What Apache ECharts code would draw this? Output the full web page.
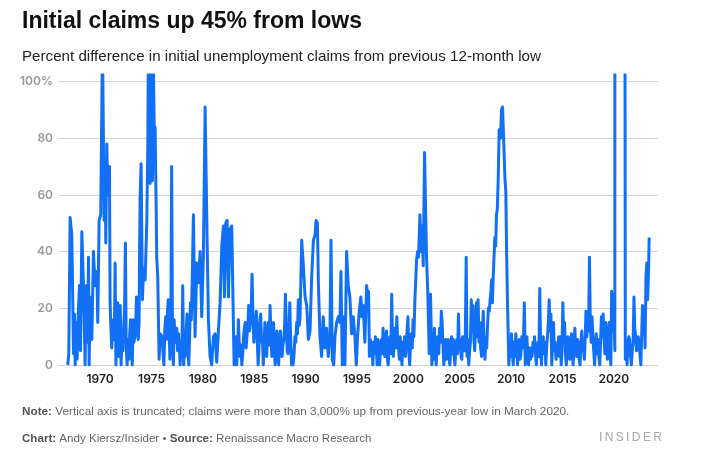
<!DOCTYPE html>
<html><head><meta charset="utf-8">
<script src="https://cdn.jsdelivr.net/npm/echarts@6/dist/echarts.min.js"></script>
<style>html,body{margin:0;padding:0;background:#fff}#c{width:708px;height:469px}</style>
</head><body><div id="c"></div>
<script>
// decimal year of each observation
const dates = [
 1966.85,1966.95,1967.08,1967.24,1967.34,1967.41,1967.50,1967.57,1967.66,1967.76,1967.86,1967.99,
 1968.09,1968.22,1968.38,1968.54,1968.64,1968.77,1968.87,1968.93,1969.03,1969.19,1969.35,1969.51,1969.68,1969.77,1969.90,
 1970.06,1970.23,1970.32,1970.39,1970.49,1970.55,1970.65,1970.75,1970.91,1970.97,
 1971.04,1971.13,1971.21,1971.29,1971.38,1971.46,1971.54,1971.63,1971.71,1971.79,1971.88,1971.96,
 1972.04,1972.13,1972.21,1972.29,1972.38,1972.46,1972.54,1972.63,1972.71,1972.79,1972.88,1972.96,
 1973.04,1973.13,1973.21,1973.29,1973.38,1973.46,1973.54,1973.63,1973.71,1973.79,1973.83,1973.89,1973.99,
 1974.12,1974.22,1974.38,1974.54,1974.64,1974.70,1974.87,1974.96,1975.09,1975.19,1975.29,1975.35,1975.45,1975.51,1975.61,1975.74,1975.84,
 1976.04,1976.13,1976.21,1976.29,1976.38,1976.46,1976.54,1976.63,1976.71,1976.79,1976.88,1976.96,
 1977.04,1977.13,1977.21,1977.29,1977.38,1977.46,1977.54,1977.63,1977.71,1977.79,1977.88,1977.96,
 1978.04,1978.13,1978.21,1978.29,1978.38,1978.46,1978.54,1978.63,1978.71,1978.79,1978.88,1978.96,
 1979.08,1979.24,1979.41,1979.57,1979.73,1979.89,
 1980.05,1980.22,1980.31,1980.44,1980.54,1980.70,1980.86,1981.03,1981.19,1981.35,1981.51,1981.68,1981.84,
 1982.00,1982.10,1982.23,1982.36,1982.49,1982.65,1982.81,1982.91,
 1983.04,1983.13,1983.21,1983.29,1983.38,1983.46,1983.54,1983.63,1983.71,1983.79,1983.88,1983.96,
 1984.04,1984.13,1984.21,1984.29,1984.38,1984.46,1984.54,1984.63,1984.71,1984.79,1984.88,1984.96,
 1985.04,1985.13,1985.21,1985.29,1985.38,1985.46,1985.54,1985.63,1985.71,1985.79,1985.88,1985.96,
 1986.04,1986.13,1986.21,1986.29,1986.38,1986.46,1986.54,1986.63,1986.71,1986.79,1986.88,1986.96,
 1987.04,1987.13,1987.21,1987.29,1987.38,1987.46,1987.54,1987.63,1987.71,1987.79,1987.88,1987.96,
 1988.04,1988.13,1988.21,1988.29,1988.38,1988.46,1988.54,1988.63,1988.71,1988.79,1988.88,1988.96,
 1989.04,1989.13,1989.21,1989.29,1989.38,1989.46,1989.62,1989.78,1989.95,
 1990.11,1990.27,1990.43,1990.59,1990.76,1990.92,1991.02,1991.15,1991.25,1991.40,1991.56,1991.72,1991.88,
 1992.04,1992.21,1992.37,1992.47,1992.60,1992.73,1992.86,1993.02,1993.18,1993.34,1993.44,1993.57,1993.70,1993.83,1993.99,
 1994.15,1994.31,1994.48,1994.64,1994.80,1994.93,1995.06,1995.22,1995.38,1995.48,1995.61,1995.77,1995.94,
 1996.04,1996.13,1996.21,1996.29,1996.38,1996.46,1996.54,1996.63,1996.71,1996.79,1996.88,1996.96,
 1997.04,1997.13,1997.21,1997.29,1997.38,1997.46,1997.54,1997.63,1997.71,1997.79,1997.88,1997.96,
 1998.04,1998.13,1998.21,1998.29,1998.38,1998.46,1998.54,1998.63,1998.71,1998.79,1998.88,1998.96,
 1999.04,1999.13,1999.21,1999.29,1999.38,1999.46,1999.54,1999.63,1999.71,1999.79,1999.88,1999.96,
 2000.04,2000.13,2000.21,2000.29,2000.38,2000.46,2000.54,
 2000.64,2000.80,2000.90,2000.99,2001.13,2001.22,2001.32,2001.45,2001.58,2001.68,2001.77,2001.90,2002.03,2002.16,
 2002.29,2002.38,2002.46,2002.54,2002.63,2002.71,2002.79,2002.88,2002.96,
 2003.04,2003.13,2003.21,2003.29,2003.38,2003.46,2003.54,2003.63,2003.71,2003.79,2003.88,2003.96,
 2004.04,2004.13,2004.21,2004.29,2004.38,2004.46,2004.54,2004.63,2004.71,2004.79,2004.88,2004.96,
 2005.04,2005.13,2005.21,2005.29,2005.38,2005.46,2005.54,2005.63,2005.71,2005.79,2005.88,2005.96,
 2006.04,2006.13,2006.21,2006.29,2006.38,2006.46,2006.54,2006.63,2006.71,2006.79,2006.88,2006.96,
 2007.04,2007.13,2007.21,2007.29,2007.38,2007.46,2007.54,2007.63,2007.71,2007.79,2007.88,2007.96,
 2008.04,2008.10,2008.18,2008.26,2008.34,2008.42,2008.50,2008.58,2008.66,2008.75,2008.84,2008.97,
 2009.07,2009.17,2009.30,2009.40,2009.49,2009.56,2009.65,2009.72,2009.78,2009.88,2009.96,
 2010.04,2010.13,2010.21,2010.29,2010.38,2010.46,2010.54,2010.63,2010.71,2010.79,2010.88,2010.96,
 2011.04,2011.13,2011.21,2011.29,2011.38,2011.46,2011.54,2011.63,2011.71,2011.79,2011.88,2011.96,
 2012.04,2012.13,2012.21,2012.29,2012.38,2012.46,2012.54,2012.63,2012.71,2012.79,2012.88,2012.96,
 2013.04,2013.13,2013.21,2013.29,2013.38,2013.46,2013.54,2013.63,2013.71,2013.79,2013.88,2013.96,
 2014.04,2014.13,2014.21,2014.29,2014.38,2014.46,2014.54,2014.63,2014.71,2014.79,2014.88,2014.96,
 2015.04,2015.13,2015.21,2015.29,2015.38,2015.46,2015.54,2015.63,2015.71,2015.79,2015.88,2015.96,
 2016.04,2016.13,2016.21,2016.29,2016.38,2016.46,2016.54,2016.63,2016.71,2016.79,2016.88,2016.96,
 2017.04,2017.13,2017.21,2017.29,2017.38,2017.46,2017.54,2017.63,2017.71,2017.79,2017.88,2017.96,
 2018.04,2018.13,2018.21,2018.29,2018.38,2018.46,2018.54,2018.63,2018.71,2018.79,2018.88,2018.96,
 2019.04,2019.13,2019.21,2019.29,2019.38,2019.46,2019.54,2019.63,2019.71,2019.79,2019.88,2019.96,
 2020.10,2020.17,2020.40,2020.60,2020.80,2021.05,
 2021.12,2021.21,2021.29,2021.38,2021.46,2021.54,2021.63,2021.71,2021.79,2021.88,2021.96,
 2022.04,2022.13,2022.21,2022.29,2022.38,2022.46,2022.54,2022.63,2022.71,2022.79,2022.88,2022.96,
 2023.04,2023.13,2023.21,2023.29,2023.38,2023.44
];
// percent above previous 12-month low
const pct = [
 0,4,52,46,22,4,18,0,15,2,17,28,
 5,47,28,0,28,8,38,0,24,9,40,28,33,15,51,
 53,115,80,51,68,43,78,60,70,22,
 14,6,11,16,9,36,0,12,22,3,10,21,
 0,8,5,13,20,43,6,0,9,2,11,16,
 5,0,16,8,10,14,24,12,9,15,36,59,71,
 23,34,30,50,77,115,64,115,65,105,77,84,57,38,31,2,11,
 10,4,0,12,17,9,18,23,14,2,10,70,
 15,0,16,8,10,13,5,11,7,0,8,4,
 28,0,6,3,12,18,8,0,10,22,16,29,
 53,10,36,29,40,17,
 38,91,69,38,16,3,0,10,11,1,12,22,42,
 49,24,50,51,24,48,49,28,
 0,6,10,0,5,16,8,3,7,0,4,10,
 13,15,6,10,14,21,12,15,20,32,17,8,
 12,15,19,9,0,6,15,18,8,10,0,7,
 15,9,3,11,15,7,21,10,3,9,15,5,
 0,7,12,4,0,8,12,6,3,7,9,14,
 25,12,5,4,12,22,10,0,5,0,4,10,
 8,15,11,23,14,17,44,35,24,
 21,9,12,31,44,46,51,50,28,10,3,17,6,
 13,3,11,44,2,0,10,15,17,15,33,0,17,0,40,
 28,24,11,17,10,0,10,19,24,17,21,8,28,
 22,26,3,9,5,8,0,8,4,10,6,0,
 9,3,0,7,9,4,13,6,3,8,12,2,
 0,7,10,4,25,8,3,9,13,6,17,8,
 6,2,10,5,0,8,4,10,3,8,12,17,
 5,0,7,11,6,16,10,
 23,37,40,38,53,40,49,35,75,55,38,25,4,25,
 0,5,2,13,6,0,8,10,4,
 13,8,19,15,6,0,5,9,2,7,9,3,
 0,6,10,4,9,3,0,7,9,4,18,6,
 9,3,2,10,6,5,8,38,3,9,0,5,
 8,23,12,21,9,5,14,22,10,23,8,15,
 6,3,12,19,7,2,10,6,14,20,19,23,
 26,30,22,31,38,45,42,53,55,66,83,80,
 90,91,77,66,61,41,22,11,0,6,3,
 11,4,0,8,3,11,6,0,5,9,2,4,
 10,6,10,22,0,5,10,3,0,6,2,6,
 3,8,5,10,4,0,6,8,3,27,5,0,
 8,10,4,8,0,6,10,15,23,12,18,0,
 8,15,5,8,2,6,4,10,3,10,0,6,
 22,8,15,4,0,7,10,3,2,8,11,4,
 0,7,13,5,3,9,8,2,0,7,12,5,
 6,2,9,19,10,18,12,38,16,8,17,10,
 5,0,7,11,4,9,3,0,8,17,10,18,
 10,4,15,6,2,9,15,5,0,26,12,25,
 5,3000,1500,900,500,250,
 2,6,0,8,10,9,3,0,5,8,24,
 13,10,5,8,10,10,4,0,0,21,14,19,
 6,31,36,23,33,45
];
const xTicks = [1970,1975,1980,1985,1990,1995,2000,2005,2010,2015,2020];
const yTicks = [0,20,40,60,80,100];

const chart = echarts.init(document.getElementById('c'), null, {renderer:'canvas'});
const font = '"Liberation Sans", Arial, sans-serif';
chart.setOption({
  animation: false,
  backgroundColor: '#fff',
  grid: {left: 58, right: 50, top: 75, bottom: 104, containLabel: false},
  xAxis: {
    type: 'value', min: 1965.9, max: 2024.3,
    axisLine: {show: false}, axisTick: {show: false, customValues: xTicks},
    splitLine: {show: false},
    axisLabel: {customValues: xTicks, formatter: v => String(v), color: '#222', fontSize: 12, fontWeight: 600, fontFamily: 'Inter, sans-serif', margin: 8}
  },
  yAxis: {
    type: 'value', min: 0, max: 102.3,
    axisLine: {show: false}, axisTick: {show: false, customValues: yTicks},
    splitLine: {show: true, lineStyle: {color: '#d6d6d6', width: 1}},
    axisLabel: {customValues: yTicks, formatter: v => v === 100 ? '100%' : String(v), color: '#999', fontSize: 12, fontWeight: 600, fontFamily: 'Inter, sans-serif', margin: 5}
  },
  series: [{
    type: 'line', showSymbol: false, clip: true,
    data: dates.map((d, i) => [d, pct[i]]),
    lineStyle: {color: '#1270f6', width: 3, join: 'round'},
    itemStyle: {color: '#1270f6'}
  }],
  graphic: [
    {type: 'text', left: 22, top: 10, style: {text: 'Initial claims up 45% from lows', font: 'bold 23px ' + font, fill: '#111'}},
    {type: 'text', left: 22, top: 49, style: {text: 'Percent difference in initial unemployment claims from previous 12-month low', font: '15.15px ' + font, fill: '#222'}},
    {type: 'text', left: 22, top: 406, style: {text: '{b|Note:} Vertical axis is truncated; claims were more than 3,000% up from previous-year low in March 2020.', font: '11.75px ' + font, fill: '#666', rich: {b: {fill: '#555', font: 'bold 11.75px ' + font}}}},
    {type: 'text', left: 22, top: 433, style: {text: '{b|Chart:} Andy Kiersz/Insider \u2022 {b|Source:} Renaissance Macro Research', font: '11.6px ' + font, fill: '#666', rich: {b: {fill: '#555', font: 'bold 11.6px ' + font}}}},
    {type: 'text', right: 46, top: 432, style: {text: 'I\u2009N\u2009S\u2009I\u2009D\u2009E\u2009R', font: '12px ' + font, fill: '#a8a8a8'}}
  ]
});
</script>
</body></html>
